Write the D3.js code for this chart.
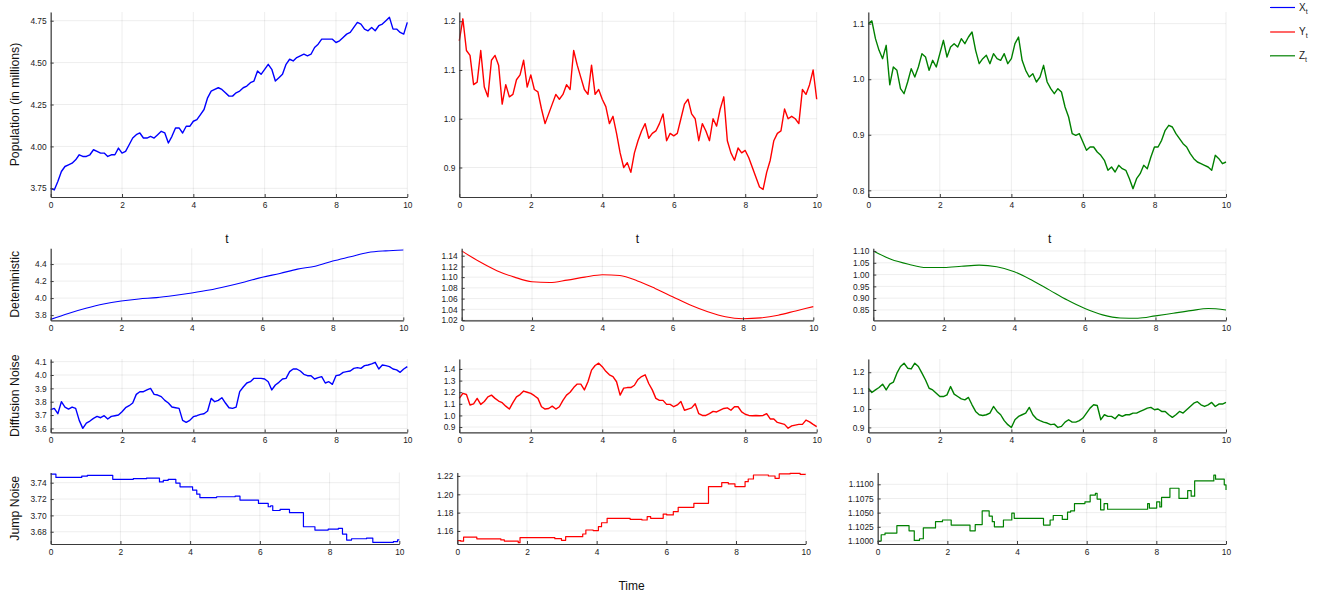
<!DOCTYPE html>
<html>
<head>
<meta charset="utf-8">
<script src="https://cdn.jsdelivr.net/npm/d3@7"></script>
<style>
  body { margin: 0; background: #fff; }
  svg { display: block; font-family: "Liberation Sans", Arial, Helvetica, sans-serif; }
</style>
</head>
<body>
<svg id="chart" width="1324" height="594"></svg>
<script>
// ---- time grids ----
const tFine = d3.range(101).map(i => +(i * 0.1).toFixed(1));   // 0, 0.1, ... 10
const tHalf = d3.range(21).map(i => i * 0.5);                   // 0, 0.5, ... 10
const xTickValues = [0, 2, 4, 6, 8, 10];

// ---- full model paths (row 1) ----
const xFull = [3.75,3.74,3.79,3.85,3.88,3.89,3.90,3.92,3.95,3.94,
  3.94,3.95,3.98,3.97,3.96,3.96,3.94,3.95,3.95,3.99,
  3.96,3.97,4.01,4.05,4.07,4.08,4.05,4.05,4.06,4.05,
  4.07,4.09,4.08,4.02,4.06,4.11,4.11,4.08,4.12,4.12,
  4.15,4.16,4.19,4.22,4.29,4.33,4.34,4.35,4.34,4.32,
  4.30,4.30,4.32,4.33,4.35,4.36,4.38,4.39,4.45,4.43,
  4.46,4.49,4.46,4.39,4.41,4.43,4.49,4.52,4.51,4.53,
  4.54,4.55,4.54,4.55,4.59,4.61,4.64,4.64,4.64,4.64,
  4.62,4.63,4.65,4.67,4.68,4.71,4.74,4.73,4.70,4.69,
  4.71,4.69,4.72,4.73,4.75,4.77,4.70,4.70,4.68,4.67,
  4.74];
const yFull = [1.16,1.205,1.14,1.13,1.07,1.075,1.14,1.065,1.045,1.12,
  1.13,1.11,1.03,1.07,1.045,1.05,1.08,1.09,1.12,1.065,
  1.09,1.06,1.055,1.02,0.99,1.01,1.03,1.05,1.04,1.05,
  1.07,1.06,1.14,1.11,1.085,1.06,1.05,1.11,1.05,1.06,
  1.04,1.025,0.99,1.005,0.97,0.93,0.90,0.91,0.89,0.93,
  0.955,0.975,0.99,0.96,0.97,0.975,0.99,1.01,0.955,0.97,
  0.965,0.97,1.00,1.03,1.04,1.01,1.00,0.955,0.99,0.975,
  0.955,1.00,0.985,1.02,1.045,0.955,0.93,0.915,0.94,0.93,
  0.935,0.92,0.90,0.88,0.86,0.855,0.89,0.915,0.955,0.97,
  0.975,1.02,1.00,1.005,1.00,0.99,1.06,1.05,1.07,1.10,
  1.04];
const zFull = [1.10,1.105,1.073,1.052,1.037,1.061,0.99,1.022,1.016,0.983,
  0.974,0.995,1.019,1.004,1.022,1.046,1.04,1.016,1.034,1.022,
  1.046,1.07,1.04,1.058,1.064,1.058,1.073,1.064,1.076,1.085,
  1.052,1.028,1.037,1.043,1.028,1.046,1.037,1.034,1.046,1.028,
  1.037,1.064,1.076,1.034,1.016,1.004,1.01,0.995,1.004,1.025,
  0.995,0.983,0.974,0.983,0.977,0.95,0.932,0.902,0.899,0.902,
  0.887,0.872,0.878,0.878,0.869,0.863,0.854,0.836,0.842,0.833,
  0.845,0.839,0.836,0.821,0.803,0.821,0.83,0.845,0.839,0.86,
  0.878,0.878,0.89,0.908,0.917,0.914,0.902,0.893,0.884,0.878,
  0.866,0.857,0.851,0.848,0.845,0.842,0.836,0.863,0.857,0.848,
  0.851];

// ---- deterministic part (row 2) ----
const xDet = [3.75,3.82,3.88,3.93,3.965,3.99,4.005,4.03,4.06,4.095,4.14,
  4.19,4.245,4.29,4.34,4.375,4.435,4.485,4.535,4.555,4.565];
const yDet = [1.149,1.129,1.112,1.10,1.0915,1.09,1.0945,1.10,1.1045,1.103,1.093,
  1.079,1.0635,1.048,1.0355,1.026,1.0225,1.024,1.029,1.037,1.045];
const zDet = [1.10,1.065,1.044,1.03,1.03,1.035,1.04,1.033,1.012,0.976,0.934,
  0.892,0.856,0.829,0.816,0.815,0.825,0.836,0.847,0.856,0.85];

// ---- diffusion noise only (row 3) ----
const xDiff = [3.74,3.75,3.71,3.80,3.76,3.745,3.76,3.75,3.66,3.60,
  3.64,3.655,3.675,3.69,3.68,3.695,3.67,3.69,3.695,3.70,
  3.725,3.755,3.77,3.79,3.855,3.875,3.875,3.888,3.90,3.855,
  3.85,3.838,3.81,3.79,3.76,3.755,3.75,3.66,3.645,3.66,
  3.688,3.695,3.705,3.71,3.73,3.825,3.80,3.81,3.83,3.79,
  3.755,3.75,3.76,3.875,3.91,3.94,3.95,3.975,3.975,3.975,
  3.97,3.95,3.888,3.925,3.945,3.97,3.975,4.025,4.045,4.045,
  4.03,4.005,3.995,3.995,3.97,3.98,3.988,3.94,3.95,3.93,
  3.995,4.00,4.02,4.025,4.03,4.05,4.055,4.05,4.07,4.075,
  4.083,4.095,4.045,4.075,4.07,4.063,4.045,4.038,4.02,4.045,
  4.063];
const yDiff = [1.147,1.19,1.18,1.09,1.10,1.147,1.095,1.12,1.16,1.175,
  1.147,1.124,1.11,1.08,1.055,1.11,1.16,1.18,1.21,1.20,
  1.19,1.17,1.147,1.075,1.055,1.06,1.08,1.055,1.075,1.13,
  1.175,1.20,1.24,1.27,1.27,1.22,1.29,1.39,1.43,1.45,
  1.42,1.38,1.35,1.335,1.29,1.175,1.235,1.24,1.24,1.26,
  1.31,1.335,1.35,1.275,1.22,1.147,1.13,1.13,1.095,1.095,
  1.075,1.09,1.12,1.045,1.055,1.065,1.10,1.015,1.00,1.00,
  1.015,1.035,1.03,1.045,1.06,1.065,1.045,1.075,1.075,1.03,
  1.01,1.00,0.997,1.00,0.997,1.00,1.015,0.97,0.97,0.94,
  0.932,0.923,0.89,0.91,0.917,0.923,0.923,0.96,0.945,0.923,
  0.903];
const zDiff = [1.113,1.09,1.104,1.117,1.135,1.104,1.135,1.146,1.195,1.231,
  1.249,1.222,1.218,1.249,1.231,1.195,1.158,1.113,1.104,1.086,
  1.068,1.068,1.077,1.122,1.081,1.068,1.055,1.05,1.063,1.023,
  0.987,0.969,0.965,0.969,0.978,1.014,0.987,0.969,0.937,0.915,
  0.90,0.942,0.96,0.969,0.978,1.009,0.969,0.947,0.937,0.929,
  0.924,0.915,0.918,0.90,0.906,0.929,0.942,0.929,0.929,0.937,
  0.951,0.978,1.005,1.023,1.019,0.942,0.969,0.96,0.96,0.947,
  0.969,0.96,0.969,0.969,0.978,0.978,0.987,0.996,1.005,1.009,
  0.996,1.00,0.987,0.987,0.969,0.955,0.969,0.987,0.978,0.996,
  1.014,1.032,1.04,1.023,1.014,1.023,1.036,1.014,1.027,1.027,
  1.036];

// ---- jump noise only (row 4): jump times and the level held after each ----
const xJumpT = [0,0.15,0.89,1.05,1.78,2.37,2.75,3.12,3.23,3.37,3.59,3.71,4.07,4.19,4.28,
  4.76,5.29,5.43,5.96,6.24,6.31,6.37,6.58,6.85,7.25,7.58,7.96,8.25,8.37,8.49,8.63,
  9.06,9.24,9.83,9.95,10];
const xJumpV = [3.7506,3.7465,3.748,3.749,3.7441,3.745,3.7457,3.741,3.7429,3.7441,3.7396,3.735,3.731,3.726,3.7218,
  3.7228,3.7235,3.7187,3.7146,3.7106,3.7118,3.706,3.7073,3.7033,3.6861,3.682,3.6832,3.684,3.6772,3.6698,3.6714,
  3.6722,3.667,3.6678,3.670,3.670];
const yJumpT = [0,0.1,0.18,0.56,1.25,1.35,1.75,1.80,2.80,2.99,3.11,3.60,3.69,3.90,4.05,4.14,4.30,
  4.96,5.30,5.45,5.55,5.91,6.01,6.20,6.34,6.79,7.21,7.59,7.78,7.97,8.26,8.35,8.50,
  8.93,9.12,9.24,9.55,9.84,10];
const yJumpV = [1.1495,1.1489,1.1533,1.1515,1.1502,1.149,1.1473,1.1527,1.1516,1.1498,1.1538,1.1567,1.1611,1.1604,1.1647,1.169,1.1738,
  1.1727,1.172,1.1756,1.1738,1.1785,1.1775,1.1811,1.1858,1.1902,1.2084,1.2127,1.2113,1.2084,1.2138,1.2167,1.2211,
  1.22,1.2175,1.2222,1.2229,1.2218,1.2218];
const zJumpT = [0,0.1,0.21,0.55,0.9,1.05,1.2,1.31,1.66,1.86,2.11,2.65,2.8,3.0,3.2,3.29,3.35,3.61,3.85,3.92,
  4.76,4.95,5.04,5.3,5.45,5.54,5.65,5.95,6.1,6.25,6.3,6.4,6.5,6.6,7.75,7.8,8.01,8.1,8.15,8.39,
  8.65,8.9,9.0,9.1,9.65,9.7,9.95,10];
const zJumpV = [1.1000,1.1011,1.1014,1.1027,1.1018,1.1001,1.1004,1.1023,1.1034,1.1037,1.1028,1.1018,1.1029,1.1053,1.1044,1.1034,1.1025,1.1037,1.1049,1.1040,
  1.1028,1.1037,1.1045,1.1038,1.1051,1.1053,1.1066,1.1069,1.1081,1.1084,1.1074,1.1055,1.1066,1.1056,1.1066,1.1058,1.1069,1.1060,1.1077,1.1093,
  1.1075,1.1089,1.1079,1.1106,1.1116,1.1109,1.1099,1.109];

// ---- labels ----
const rowLabels = ["Population (in millions)", "Deteministic", "Diffusion Noise", "Jump Noise"];
const seriesNames = ["X", "Y", "Z"];
const seriesColors = ["#0000ff", "#ff0000", "#008000"];

// ---- subplot layout ----
const rowBox = [
  { top: 12, bottom: 197 },
  { top: 248.3, bottom: 320.4 },
  { top: 359, bottom: 432.4 },
  { top: 472.5, bottom: 544 }
];
const panels = [
  { r: 0, c: 0, t: tFine, v: xFull, x0: 50.7, x1: 407.3, dom: [3.698, 4.802], ticks: [3.75, 4.0, 4.25, 4.5, 4.75], fmt: ".2f" },
  { r: 0, c: 1, t: tFine, v: yFull, x0: 459.3, x1: 816.7, dom: [0.8395, 1.219], ticks: [0.9, 1.0, 1.1, 1.2], fmt: ".1f" },
  { r: 0, c: 2, t: tFine, v: zFull, x0: 868.3, x1: 1226, dom: [0.788, 1.121], ticks: [0.8, 0.9, 1.0, 1.1], fmt: ".1f" },
  { r: 1, c: 0, t: tHalf, v: xDet, x0: 50.7, x1: 403.3, dom: [3.738, 4.585], ticks: [3.8, 4.0, 4.2, 4.4], fmt: ".1f", smooth: true },
  { r: 1, c: 1, t: tHalf, v: yDet, x0: 461.7, x1: 813.3, dom: [1.0193, 1.1538], ticks: [1.02, 1.04, 1.06, 1.08, 1.10, 1.12, 1.14], fmt: ".2f", smooth: true },
  { r: 1, c: 2, t: tHalf, v: zDet, x0: 873.3, x1: 1226, dom: [0.8057, 1.1114], ticks: [0.85, 0.90, 0.95, 1.00, 1.05, 1.10], fmt: ".2f", smooth: true },
  { r: 2, c: 0, t: tFine, v: xDiff, x0: 50.7, x1: 407.3, dom: [3.570, 4.120], ticks: [3.6, 3.7, 3.8, 3.9, 4.0, 4.1], fmt: ".1f" },
  { r: 2, c: 1, t: tFine, v: yDiff, x0: 459.3, x1: 816.7, dom: [0.854, 1.486], ticks: [0.9, 1.0, 1.1, 1.2, 1.3, 1.4], fmt: ".1f" },
  { r: 2, c: 2, t: tFine, v: zDiff, x0: 868.3, x1: 1226, dom: [0.873, 1.272], ticks: [0.9, 1.0, 1.1, 1.2], fmt: ".1f" },
  { r: 3, c: 0, t: xJumpT, v: xJumpV, x0: 50.7, x1: 399.3, dom: [3.6650, 3.7525], ticks: [3.68, 3.70, 3.72, 3.74], fmt: ".2f", step: true },
  { r: 3, c: 1, t: yJumpT, v: yJumpV, x0: 457.3, x1: 805.7, dom: [1.1458, 1.2238], ticks: [1.16, 1.18, 1.20, 1.22], fmt: ".2f", step: true },
  { r: 3, c: 2, t: zJumpT, v: zJumpV, x0: 877.7, x1: 1226, dom: [1.09947, 1.11208], ticks: [1.1000, 1.1025, 1.1050, 1.1075, 1.1100], fmt: ".4f", step: true }
];

const svg = d3.select("#chart");
svg.append("rect").attr("width", 1324).attr("height", 594).attr("fill", "#fff");

const tickFont = 8.4;

panels.forEach(p => {
  const box = rowBox[p.r];
  const x = d3.scaleLinear().domain([0, 10]).range([p.x0, p.x1]);
  const y = d3.scaleLinear().domain(p.dom).range([box.bottom, box.top]);
  const g = svg.append("g");

  // grid
  g.append("g").selectAll("line").data(xTickValues).join("line")
    .attr("x1", d => x(d)).attr("x2", d => x(d))
    .attr("y1", box.top).attr("y2", box.bottom)
    .attr("stroke", "#000").attr("stroke-opacity", 0.09).attr("stroke-width", 0.8);
  g.append("g").selectAll("line").data(p.ticks).join("line")
    .attr("x1", p.x0).attr("x2", p.x1)
    .attr("y1", d => y(d)).attr("y2", d => y(d))
    .attr("stroke", "#000").attr("stroke-opacity", 0.09).attr("stroke-width", 0.8);

  // series
  const pts = p.t.map((t, i) => [t, p.v[i]]);
  const curve = p.step ? d3.curveStepAfter : (p.smooth ? d3.curveMonotoneX : d3.curveLinear);
  const line = d3.line().x(d => x(d[0])).y(d => y(d[1])).curve(curve);
  g.append("path")
    .attr("d", line(pts))
    .attr("fill", "none")
    .attr("stroke", seriesColors[p.c])
    .attr("stroke-width", p.smooth ? 1.1 : (p.step ? 1.2 : 1.4))
    .attr("stroke-linejoin", "round");

  // axes
  const ax = d3.axisBottom(x).tickValues(xTickValues).tickFormat(d3.format("d"))
    .tickSize(-3).tickSizeOuter(0).tickPadding(5);
  const ay = d3.axisLeft(y).tickValues(p.ticks).tickFormat(d3.format(p.fmt))
    .tickSize(-3).tickSizeOuter(0).tickPadding(4);
  const gx = g.append("g").attr("transform", `translate(0,${box.bottom})`).call(ax);
  const gy = g.append("g").attr("transform", `translate(${p.x0},0)`).call(ay);
  [gx, gy].forEach(a => {
    a.attr("font-family", null).attr("font-size", tickFont);
    a.select(".domain").attr("stroke", "#3a3a3a").attr("stroke-width", 1.2);
    a.selectAll(".tick line").attr("stroke", "#3a3a3a").attr("stroke-width", 1);
    a.selectAll(".tick text").attr("fill", "#222");
  });

  // "t" titles under the first row
  if (p.r === 1) {
    svg.append("text")
      .attr("x", (p.x0 + p.x1) / 2).attr("y", 238.3).attr("dy", "0.35em")
      .attr("text-anchor", "middle").attr("font-size", 12).attr("fill", "#111")
      .text("t");
  }
});

// row labels
rowLabels.forEach((txt, r) => {
  const cy = (rowBox[r].top + rowBox[r].bottom) / 2 + (r === 2 ? 0 : 0);
  svg.append("text")
    .attr("transform", `translate(14.5,${cy}) rotate(-90)`)
    .attr("dy", "0.35em").attr("text-anchor", "middle")
    .attr("font-size", 12.3).attr("fill", "#111")
    .text(txt);
});

// bottom title
svg.append("text")
  .attr("x", 631.5).attr("y", 586).attr("dy", "0.35em")
  .attr("text-anchor", "middle").attr("font-size", 12).attr("fill", "#111")
  .text("Time");

// legend
const legendY = [7.5, 32, 55.8];
seriesNames.forEach((name, i) => {
  svg.append("line")
    .attr("x1", 1270).attr("x2", 1295)
    .attr("y1", legendY[i]).attr("y2", legendY[i])
    .attr("stroke", seriesColors[i]).attr("stroke-width", 1.2);
  const t = svg.append("text")
    .attr("x", 1299).attr("y", legendY[i]).attr("dy", "0.3em")
    .attr("font-size", 10).attr("fill", "#222");
  t.append("tspan").text(name);
  t.append("tspan").attr("font-size", 7).attr("dy", "3").text("t");
});
</script>
</body>
</html>
